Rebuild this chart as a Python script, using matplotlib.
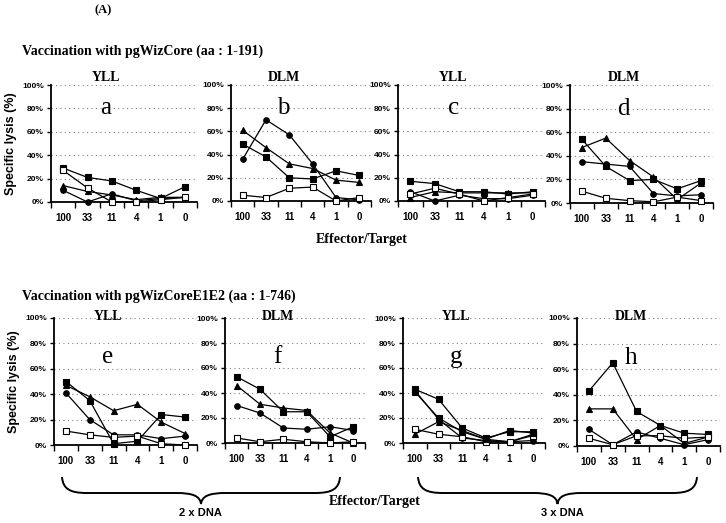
import matplotlib
matplotlib.use("Agg")
import matplotlib.pyplot as plt
from matplotlib.path import Path
from matplotlib.patches import PathPatch

W, H = 726, 523

ratios = ["100", "33", "11", "4", "1", "0"]
y_ticks = [0, 20, 40, 60, 80, 100]

# series order: filled square, filled triangle, filled circle, open square, extra filled square
lysis_a = [[29, 21, 18, 10, 3, 13], [14, 9, 6, 2, 4, 4], [10, 0, 7, 1, 3, 4], [27, 12, 0, 0, 2, 4]]
lysis_b = [[49, 38, 20, 19, 26, 22], [61, 46, 32, 28, 18, 16], [36, 70, 57, 32, 3, 1], [5, 3, 11, 12, 0, 3]]
lysis_c = [[17, 15, 8, 8, 6, 8], [3, 8, 7, 7, 7, 7], [8, 0, 5, 2, 2, 5], [6, 11, 6, 0, 3, 6]]
lysis_d = [[54, 31, 19, 20, 12, 19], [47, 55, 36, 22, 3, 17], [35, 33, 31, 8, 6, 7], [10, 4, 2, 1, 5, 2]]
lysis_e = [[50, 35, 1, 3, 24, 22], [47, 38, 27, 32, 18, 9], [41, 20, 8, 8, 5, 7], [11, 8, 6, 7, 1, 0]]
lysis_f = [[53, 43, 25, 25, 5, 13], [46, 31, 28, 26, 8, 0], [30, 24, 12, 11, 13, 10], [4, 1, 3, 1, 0, 1]]
lysis_g = [[43, 35, 12, 4, 9, 9], [7, 17, 10, 3, 1, 7], [42, 19, 4, 2, 1, 2], [11, 7, 5, 1, 1, 6],
           [41, 20, 9, 3, 10, 8]]
lysis_h = [[43, 65, 27, 16, 10, 9], [29, 29, 5, 16, 2, 7], [13, 1, 11, 6, 1, 5], [6, 1, 8, 8, 6, 7]]

peptides = ["YLL", "DLM", "YLL", "DLM", "YLL", "DLM", "YLL", "DLM"]
letters = ["a", "b", "c", "d", "e", "f", "g", "h"]
panels = [lysis_a, lysis_b, lysis_c, lysis_d, lysis_e, lysis_f, lysis_g, lysis_h]

# marker, face colour for each series slot
STYLES = [("s", "black"), ("^", "black"), ("o", "black"), ("s", "white"), ("s", "black")]

# axes boxes in pixels: left, right, top (100%), bottom (0%)
BOXES = [(51, 197, 85, 202), (231, 371, 85, 201), (398, 545, 85, 201), (570, 713, 85, 203),
         (54, 197, 318, 445), (225, 365, 318, 443), (403, 545, 318, 443), (577, 720, 318, 446)]

SERIF = ["Liberation Serif", "DejaVu Serif"]
NARROW = ["Liberation Sans Narrow", "Liberation Sans", "DejaVu Sans"]
SANS = ["Liberation Sans", "DejaVu Sans"]

fig = plt.figure(figsize=(W / 100, H / 100), dpi=100)


def fx(x):
    return x / W


def fy(y):
    return 1 - y / H


for i, data in enumerate(panels):
    x0, x1, yt, yb = BOXES[i]
    ax = fig.add_axes([fx(x0), fy(yb), (x1 - x0) / W, (yb - yt) / H])
    xs = list(range(len(ratios)))
    for vals, (mk, fc) in zip(data, STYLES):
        ax.plot(xs, vals, color="black", lw=0.9, marker=mk, ms=4,
                mfc=fc, mec="black", mew=0.8, clip_on=False, zorder=3)
    ax.set_xlim(-0.5, 5.5)
    ax.set_ylim(0, 100)
    ax.set_yticks(y_ticks)
    ax.set_yticklabels([f"{t}%" for t in y_ticks], fontfamily=NARROW,
                       fontweight="bold", fontsize=6)
    ax.set_xticks(xs)
    ax.set_xticklabels(ratios, fontfamily=NARROW, fontweight="bold", fontsize=7)
    ax.set_xticks([k - 0.5 for k in range(len(ratios) + 1)], minor=True)
    ax.tick_params(axis="x", which="major", length=0, pad=8)
    ax.tick_params(axis="x", which="minor", length=4, width=1, direction="out")
    ax.tick_params(axis="y", length=3, width=1, direction="out", pad=2)
    for s in ("top", "right"):
        ax.spines[s].set_visible(False)
    ax.spines["left"].set_linewidth(1.3)
    ax.spines["bottom"].set_linewidth(1.3)
    ax.yaxis.grid(True, color="gray", lw=0.8, linestyle=(0, (1, 3)))
    ax.set_axisbelow(True)
    ax.patch.set_alpha(0)
    if i < 4:
        ax.text(1.75, 101, peptides[i], ha="center", va="bottom", fontfamily=SERIF,
                fontweight="bold", fontsize=10)
        ax.text(1.75, 80, letters[i], ha="center", va="center", fontfamily=SERIF, fontsize=18)
    else:
        ax.text(1.75, 101, peptides[i], ha="center", va="center", fontfamily=SERIF,
                fontweight="bold", fontsize=10)
        ax.text(1.75, 69, letters[i], ha="center", va="center", fontfamily=SERIF, fontsize=18)
    if i in (0, 4):
        ax.set_ylabel("Specific lysis (%)", fontfamily=SANS, fontweight="bold",
                      fontsize=9, labelpad=4)

fig.text(fx(103), fy(10), "(A)", ha="center", va="center", fontfamily=SERIF,
         fontweight="bold", fontsize=9)
fig.text(fx(22), fy(51), "Vaccination with pgWizCore (aa : 1-191)", ha="left", va="center",
         fontfamily=SERIF, fontweight="bold", fontsize=10)
fig.text(fx(22), fy(296), "Vaccination with pgWizCoreE1E2 (aa : 1-746)", ha="left",
         va="center", fontfamily=SERIF, fontweight="bold", fontsize=10)
fig.text(fx(362), fy(240), "Effector/Target", ha="center", va="center", fontfamily=SERIF,
         fontweight="bold", fontsize=10)
fig.text(fx(375), fy(501), "Effector/Target", ha="center", va="center", fontfamily=SERIF,
         fontweight="bold", fontsize=10)
fig.text(fx(200), fy(513), "2 x DNA", ha="center", va="center", fontfamily=SANS,
         fontweight="bold", fontsize=8)
fig.text(fx(562), fy(513), "3 x DNA", ha="center", va="center", fontfamily=SANS,
         fontweight="bold", fontsize=8)


def brace(x0, x1, ytop, ymid, ytip):
    xm = (x0 + x1) / 2
    pts = [(x0, ytop), (x0 + 1, ymid - 4), (x0 + 8, ymid), (x0 + 25, ymid),
           (xm - 25, ymid),
           (xm - 8, ymid), (xm - 1, ymid + 3), (xm, ytip),
           (xm + 1, ymid + 3), (xm + 8, ymid), (xm + 25, ymid),
           (x1 - 25, ymid),
           (x1 - 8, ymid), (x1 - 1, ymid - 4), (x1, ytop)]
    codes = [Path.MOVETO, Path.CURVE4, Path.CURVE4, Path.CURVE4, Path.LINETO,
             Path.CURVE4, Path.CURVE4, Path.CURVE4,
             Path.CURVE4, Path.CURVE4, Path.CURVE4, Path.LINETO,
             Path.CURVE4, Path.CURVE4, Path.CURVE4]
    path = Path([(fx(x), fy(y)) for x, y in pts], codes)
    fig.add_artist(PathPatch(path, fill=False, lw=1.4, color="black",
                             transform=fig.transFigure))


brace(62, 340, 477, 493, 504)
brace(418, 697, 477, 493, 504)

fig.savefig("out.png", dpi=100)
